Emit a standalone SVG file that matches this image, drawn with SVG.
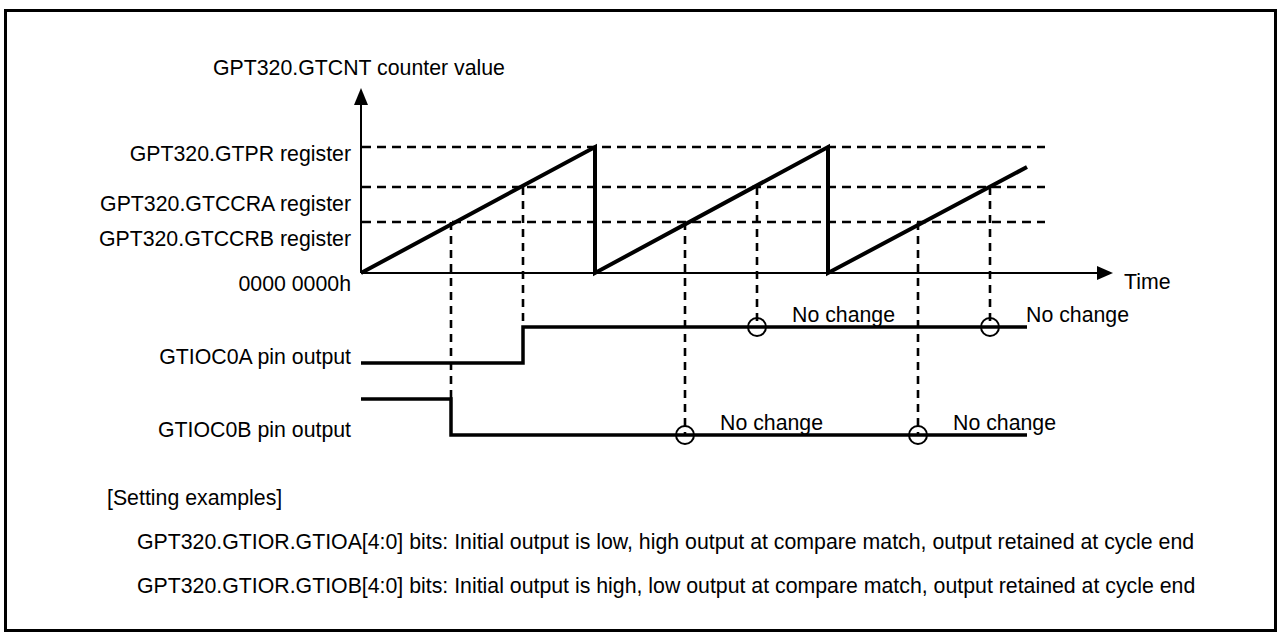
<svg xmlns="http://www.w3.org/2000/svg" width="1279" height="637" viewBox="0 0 1279 637">
<style>
text{font-family:"Liberation Sans",Arial,sans-serif;font-size:21.3px;fill:#000}
.r{text-anchor:end}
.dash{stroke:#000;stroke-width:2.6;stroke-dasharray:9 6;fill:none}
.vdash{stroke:#000;stroke-width:2.6;stroke-dasharray:8 6;fill:none}
.axis{stroke:#000;stroke-width:2;fill:none}
.sig{stroke:#000;stroke-width:3.5;fill:none;stroke-linejoin:miter}
.ramp{stroke:#000;stroke-width:4;fill:none;stroke-linejoin:miter}
.mark{stroke:#000;stroke-width:2;fill:none}
</style>
<rect x="5.5" y="10.5" width="1270" height="620" fill="#fff" stroke="#000" stroke-width="3"/>
<g id="labels">
<text x="359" y="75" text-anchor="middle">GPT320.GTCNT counter value</text>
<text class="r" x="351" y="161">GPT320.GTPR register</text>
<text class="r" x="351" y="211">GPT320.GTCCRA register</text>
<text class="r" x="351" y="246">GPT320.GTCCRB register</text>
<text class="r" x="351" y="291">0000 0000h</text>
<text x="1124" y="289">Time</text>
<text class="r" x="351" y="364">GTIOC0A pin output</text>
<text class="r" x="351" y="437">GTIOC0B pin output</text>
</g>
<g id="levels">
<line class="dash" x1="362" y1="147" x2="1045" y2="147"/>
<line class="dash" x1="362" y1="187" x2="1045" y2="187"/>
<line class="dash" x1="362" y1="222" x2="1045" y2="222"/>
</g>
<g id="axes">
<line class="axis" x1="361" y1="273" x2="361" y2="100"/>
<polygon points="361,88 354,105 368,105" fill="#000"/>
<line class="axis" x1="361" y1="273" x2="1100" y2="273"/>
<polygon points="1113,273 1097,266 1097,280" fill="#000"/>
</g>
<g id="counter">
<path class="ramp" d="M361,273 L595,147 L595,273 L828,147 L828,273 L1027,167"/>
</g>
<g id="connectors">
<line class="vdash" x1="451" y1="222" x2="451" y2="399"/>
<line class="vdash" x1="523" y1="187" x2="523" y2="327"/>
<line class="vdash" x1="685" y1="222" x2="685" y2="435"/>
<line class="vdash" x1="757" y1="187" x2="757" y2="327"/>
<line class="vdash" x1="918" y1="222" x2="918" y2="435"/>
<line class="vdash" x1="990" y1="187" x2="990" y2="327"/>
</g>
<g id="gtioc0a">
<path class="sig" d="M361,363 H523 V327 H1027"/>
<circle class="mark" cx="757" cy="327" r="9"/>
<circle class="mark" cx="990" cy="327" r="9"/>
<text x="792" y="322">No change</text>
<text x="1026" y="322">No change</text>
</g>
<g id="gtioc0b">
<path class="sig" d="M361,399 H451 V435 H1027"/>
<circle class="mark" cx="685" cy="435" r="9"/>
<circle class="mark" cx="918" cy="435" r="9"/>
<text x="720" y="430">No change</text>
<text x="953" y="430">No change</text>
</g>
<g id="notes">
<text x="107" y="505">[Setting examples]</text>
<text x="137" y="549">GPT320.GTIOR.GTIOA[4:0] bits: Initial output is low, high output at compare match, output retained at cycle end</text>
<text x="137" y="593">GPT320.GTIOR.GTIOB[4:0] bits: Initial output is high, low output at compare match, output retained at cycle end</text>
</g>
</svg>
